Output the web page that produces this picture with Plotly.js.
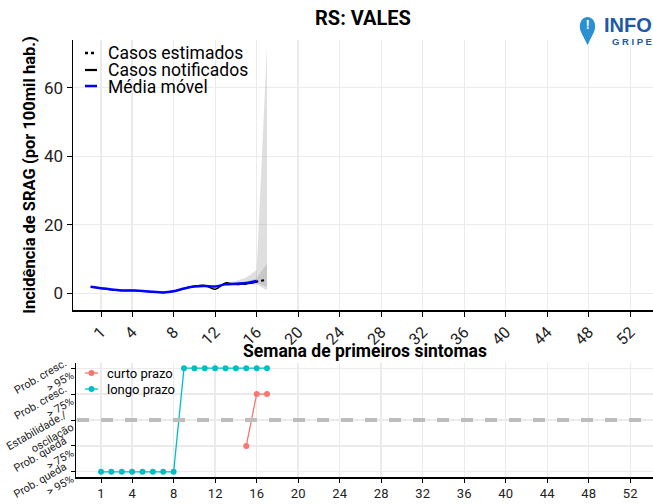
<!DOCTYPE html>
<html><head><meta charset="utf-8">
<script src="https://cdn.plot.ly/plotly-3.0.1.min.js"></script>
<style>body{margin:0;padding:0;background:#fff}#chart{width:653px;height:504px}</style>
</head><body><div id="chart"></div>
<script>
// ---- data ----
const weeksMM = [0,1,2,3,4,5,6,7,8,9,10,11,12,13,14,15,16];
const mediaMovel = [1.9,1.5,1.1,0.85,0.8,0.7,0.45,0.25,0.6,1.4,2.0,2.1,2.0,2.6,2.8,3.0,3.6];
const weeksNot = [0,1,2,3,4,5,6,7,8,9,10,11,12,13,14,15,16];
const notificados = [1.8,1.5,1.0,0.8,0.8,0.7,0.4,0.25,0.6,1.4,2.1,2.3,1.2,3.0,2.6,2.8,3.3];
const weeksEst = [13,14,15,16,17];
const estimados = [3.0,2.6,2.8,3.3,4.0];
const ic95Lower = [2.9,2.4,2.5,2.6,0.9];
const ic95Upper = [3.1,3.6,4.6,6.8,72];
const ic50Lower = [3.0,2.5,2.7,3.0,1.9];
const ic50Upper = [3.0,2.9,3.4,4.4,8.7];
const weeksProb = [1,2,3,4,5,6,7,8,9,10,11,12,13,14,15,16,17];
const longoPrazo = [-2,-2,-2,-2,-2,-2,-2,-2,2,2,2,2,2,2,2,2,2];
const weeksCurto = [15,16,17];
const curtoPrazo = [-1,1,1];
const xTicks = [1,4,8,12,16,20,24,28,32,36,40,44,48,52];
const probLevels = [-2,-1,0,1,2];
const probLabels = ['Prob. queda<br>> 95%','Prob. queda<br>> 75%','Estabilidade./<br>oscilação','Prob. cresc.<br>> 75%','Prob. cresc.<br>> 95%'];
const legendTop = ['Casos estimados','Casos notificados','Média móvel'];
const legendBottom = ['curto prazo','longo prazo'];

function band(x, lo, hi){
  return {x: x.concat(x.slice().reverse()), y: hi.concat(lo.slice().reverse())};
}
const b95 = band(weeksEst, ic95Lower, ic95Upper);
const b50 = band(weeksEst, ic50Lower, ic50Upper);

const F = 'Roboto, "Liberation Sans", sans-serif';
const RED = '#F8766D', CYAN = '#00BFC4';
const traces = [
  {x:b95.x, y:b95.y, fill:'toself', mode:'lines', line:{width:0}, fillcolor:'rgba(150,150,150,0.3)', showlegend:false, hoverinfo:'skip', xaxis:'x', yaxis:'y'},
  {x:b50.x, y:b50.y, fill:'toself', mode:'lines', line:{width:0}, fillcolor:'rgba(150,150,150,0.3)', showlegend:false, hoverinfo:'skip', xaxis:'x', yaxis:'y'},
  {x:weeksEst, y:estimados, mode:'lines', name:legendTop[0], line:{color:'#000', width:2, dash:'dot'}, xaxis:'x', yaxis:'y', showlegend:false},
  {x:weeksNot, y:notificados, mode:'lines', name:legendTop[1], line:{color:'#000', width:1.5, shape:'spline'}, xaxis:'x', yaxis:'y', showlegend:false},
  {x:weeksMM, y:mediaMovel, mode:'lines', name:legendTop[2], line:{color:'#0000ff', width:2.5, shape:'spline'}, xaxis:'x', yaxis:'y', showlegend:false},
  {x:weeksCurto, y:curtoPrazo, mode:'lines+markers', name:legendBottom[0], line:{color:RED, width:1.3}, marker:{color:RED, size:6}, xaxis:'x2', yaxis:'y2', showlegend:false},
  {x:weeksProb, y:longoPrazo, mode:'lines+markers', name:legendBottom[1], line:{color:CYAN, width:1.3}, marker:{color:CYAN, size:6}, xaxis:'x2', yaxis:'y2', showlegend:false}
];

const W = 653, H = 504;
const px = v => v / W, py = v => 1 - v / H;
const grid = '#ebebeb';

const shapes = [
  {type:'line', xref:'paper', x0:px(77), x1:1, yref:'y2', y0:0, y1:0, line:{color:'#bdbdbd', width:4, dash:'dash'}, layer:'above'}
];
const annotations = [
  {text:'<b>Semana de primeiros sintomas</b>', xref:'paper', yref:'paper', x:px(365), y:py(351), xanchor:'center', yanchor:'middle', showarrow:false, font:{size:17.5, color:'#000'}},
  {text:'<b>INFO</b>', xref:'paper', yref:'paper', x:px(654), y:py(25), xanchor:'right', yanchor:'middle', showarrow:false, font:{size:20, color:'#1d5aa6', family:'"Liberation Sans Narrow", "Liberation Sans", sans-serif'}},
  {text:'<b>G R I P E</b>', xref:'paper', yref:'paper', x:px(654), y:py(41), xanchor:'right', yanchor:'middle', showarrow:false, font:{size:9.5, color:'#1d5aa6', family:'"Liberation Sans", sans-serif'}},
  {text:'<b>!</b>', xref:'paper', yref:'paper', x:px(587.5), y:py(25), xanchor:'center', yanchor:'middle', showarrow:false, font:{size:12, color:'#fff'}}
];
// logo pin (pixel coords -> paper)
const pin = 'M 587.5 45 L 581.5 33 C 578 27 580 17 587.5 17 C 595 17 597 27 593.5 33 Z';
shapes.push({type:'path', xref:'paper', yref:'paper', fillcolor:'#2a8fd3', line:{width:0},
  path: pin.replace(/(\d+(?:\.\d+)?) (\d+(?:\.\d+)?)/g, (m,a,b)=> px(+a).toFixed(5)+' '+py(+b).toFixed(5))});

// top custom legend
const topRows = [53, 70, 86];
const topStyles = [{color:'#000', width:2.5, dash:'dot'}, {color:'#000', width:2.2}, {color:'#0000ff', width:2.5}];
legendTop.forEach((t,i)=>{
  shapes.push({type:'line', xref:'paper', yref:'paper', x0:px(85), x1:px(97), y0:py(topRows[i]), y1:py(topRows[i]), line:topStyles[i]});
  annotations.push({text:t, xref:'paper', yref:'paper', x:px(107), y:py(topRows[i]+0.5), xanchor:'left', yanchor:'middle', showarrow:false, font:{size:17.5, color:'#000'}, borderpad:0});
});
// bottom custom legend
const botRows = [373, 389];
const botColors = [RED, CYAN];
legendBottom.forEach((t,i)=>{
  shapes.push({type:'line', xref:'paper', yref:'paper', x0:px(85), x1:px(98), y0:py(botRows[i]), y1:py(botRows[i]), line:{color:botColors[i], width:1.3}});
  shapes.push({type:'circle', xref:'paper', yref:'paper', x0:px(88.5), x1:px(94.5), y0:py(botRows[i]-3), y1:py(botRows[i]+3), fillcolor:botColors[i], line:{width:0}});
  annotations.push({text:t, xref:'paper', yref:'paper', x:px(106), y:py(botRows[i]), xanchor:'left', yanchor:'middle', showarrow:false, font:{size:13, color:'#000'}, borderpad:0});
});

const layout = {
  width:W, height:H,
  margin:{l:0,r:0,t:0,b:0},
  paper_bgcolor:'#fff', plot_bgcolor:'#fff',
  font:{family:F, color:'#111'},
  showlegend:false,
  title:{text:'<b>RS: VALES</b>', x:px(363), xanchor:'center', y:py(18), yanchor:'middle', font:{size:20, family:F, color:'#000'}},
  xaxis:{domain:[px(73),1], range:[-1.7,54.2], tickmode:'array', tickvals:xTicks, ticktext:xTicks.map(String), tickangle:-45,
    tickfont:{size:16, color:'#222'}, ticks:'outside', ticklen:5, tickcolor:'#000', showline:true, linecolor:'#000', linewidth:1.5,
    showgrid:true, gridcolor:grid, gridwidth:1.3, zeroline:false, anchor:'y'},
  yaxis:{domain:[py(310),py(40)], range:[-4.88,73.96], tickvals:[0,20,40,60], tickfont:{size:17, color:'#222'},
    ticks:'outside', ticklen:5, tickcolor:'#000', showline:true, linecolor:'#000', linewidth:1.5,
    showgrid:true, gridcolor:grid, gridwidth:1.3, zeroline:false, anchor:'x',
    title:{text:'<b>Incidência de SRAG (por 100mil hab.)</b>', font:{size:16.5, color:'#000'}, standoff:4}},
  xaxis2:{domain:[px(76),1], range:[-1.41,54.2], tickmode:'array', tickvals:xTicks, ticktext:xTicks.map(String), tickangle:0,
    tickfont:{size:13, color:'#222'}, ticks:'outside', ticklen:4, tickcolor:'#000', showline:true, linecolor:'#000', linewidth:1.5,
    showgrid:true, gridcolor:grid, gridwidth:1.3, zeroline:false, anchor:'y2'},
  yaxis2:{domain:[py(477),py(363)], range:[-2.2,2.2], tickmode:'array', tickvals:probLevels, ticktext:probLabels, tickangle:-30,
    tickfont:{size:11, color:'#222'}, ticks:'outside', ticklen:4, tickcolor:'#000', showline:true, linecolor:'#000', linewidth:1.5,
    showgrid:true, gridcolor:grid, gridwidth:1.3, zeroline:false, anchor:'x2', ticklabeloverflow:'allow'},
  shapes: shapes,
  annotations: annotations
};
Plotly.newPlot('chart', traces, layout, {displayModeBar:false, staticPlot:true});
</script></body></html>
